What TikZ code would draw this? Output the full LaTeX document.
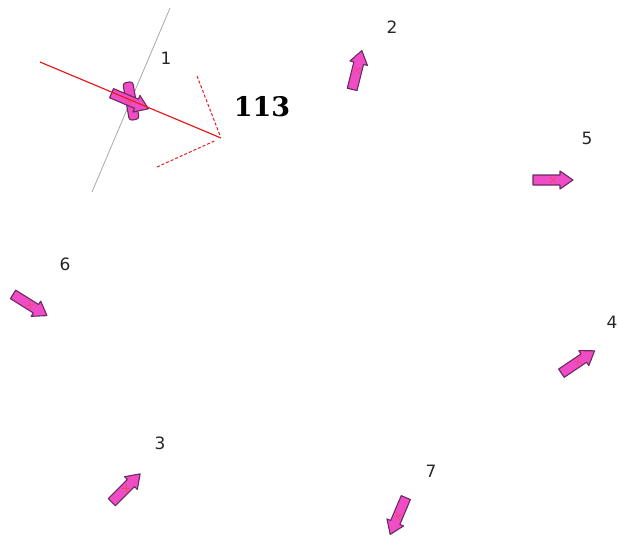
\documentclass[tikz,border=0pt]{standalone}
\usepackage{fontspec}
\usetikzlibrary{calc}
\newfontfamily\tagfont{DejaVu Sans}
\newfontfamily\scorefont{DejaVu Serif}
\definecolor{Agent}{HTML}{F04CC6}
\definecolor{AgentEdge}{HTML}{6A2A62}
\definecolor{Route}{HTML}{E41E1E}
\definecolor{Wall}{HTML}{A8A8A8}

\begin{document}
\begin{tikzpicture}[x=1pt,y=-1pt,
    agent/.pic={
      \draw[fill=Agent,draw=AgentEdge,line width=1.1pt,line join=round]
        (-20,-5) -- (7,-5) -- (7,-9) -- (20,0) -- (7,9) -- (7,5) -- (-20,5) -- cycle;
      \draw[Route!80,line width=0.5pt] (-3,-3) -- (3,3) (-3,3) -- (3,-3);
    },
    tag/.style={font=\tagfont\fontsize{17}{17}\selectfont,text=black!85}]
  \useasboundingbox (0,0) rectangle (619,539);

  % agent 1 with its heading
  \coordinate (wallA) at (170,8);
  \coordinate (wallB) at (92,192);
  \coordinate (start) at (40,62);
  \coordinate (goal) at (221,138);
  \coordinate (headL) at (197,76);
  \coordinate (headR) at (157,167);
  \draw[Wall,line width=0.8pt] (wallA) -- (wallB);
  \begin{scope}[shift={(131,101)},rotate=-80]
    \draw[fill=Agent,draw=AgentEdge,line width=1.1pt,rounded corners=3pt]
      (-19,-5) rectangle (19,5);
  \end{scope}
  \pic[rotate=-23] at (130,101) {agent};
  \draw[Route,line width=1.2pt] (start) -- (goal);
  \draw[Route,dash pattern=on 3pt off 2pt,line width=1pt] (headL) -- ($(goal)!3pt!(headL)$);
  \draw[Route,dash pattern=on 3pt off 2pt,line width=1pt] (headR) -- ($(goal)!7pt!(headR)$);
  \node[font=\scorefont\bfseries\fontsize{27}{27}\selectfont] (score) at (262,107) {113};

  % the other agents
  \pic[rotate=76] at (357,70) {agent};
  \pic[rotate=0] at (553,180) {agent};
  \pic[rotate=-32] at (30,305) {agent};
  \pic[rotate=34] at (578,362) {agent};
  \pic[rotate=45] at (126,488) {agent};
  \pic[rotate=-113] at (398,516) {agent};

  % numbers
  \node[tag] (n1) at (166,58) {1};
  \node[tag] (n2) at (392,27) {2};
  \node[tag] (n3) at (160,443) {3};
  \node[tag] (n4) at (612,322) {4};
  \node[tag] (n5) at (587,138) {5};
  \node[tag] (n6) at (65,264) {6};
  \node[tag] (n7) at (431,471) {7};
\end{tikzpicture}
\end{document}
